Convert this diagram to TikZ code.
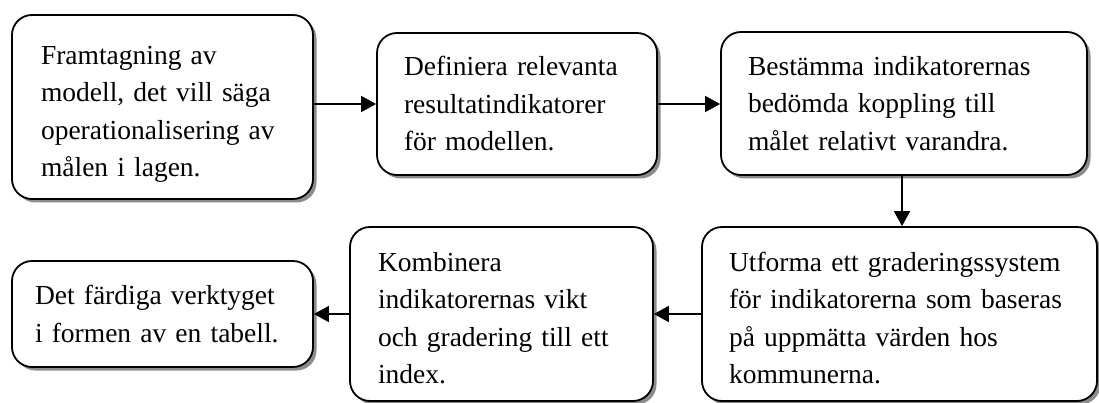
\documentclass[tikz,border=0pt]{standalone}
\usepackage{fontspec}
\setmainfont{Liberation Serif}
\usetikzlibrary{arrows.meta,shadows,calc}

\tikzset{
  stepbox/.style={
    draw=black, line width=1.8pt, rounded corners=20pt, fill=white,
    drop shadow={shadow xshift=3.5pt, shadow yshift=-3.5pt, fill=black!45, opacity=1},
    align=left, inner ysep=0pt,
    font=\fontsize{27.5}{37.5}\selectfont
  },
  boxsize/.style n args={3}{text width=#1pt-2*#3pt, inner xsep=#3pt, minimum height=#2pt},
  % a tall strut on the first line pushes the text block down
  toppad/.style={execute at begin node={\rule{0pt}{#1}}},
  flow/.style={line width=1.8pt, -{Triangle[length=15pt,width=16pt]}}
}

\begin{document}
\begin{tikzpicture}[x=1pt,y=-1pt]
  \useasboundingbox (0,0) rectangle (1099,403);
  \clip (0,0) rectangle (1099,403);

  % top row
  \node[stepbox, boxsize={301}{184}{29}, toppad=33pt] (b1) at (162.5,107)
    {Framtagning av\\modell, det vill säga\\operationalisering av\\målen i lagen.};
  \node[stepbox, boxsize={280}{142}{27}] (b2) at (517,104)
    {Definiera relevanta\\resultatindikatorer\\för modellen.};
  \node[stepbox, boxsize={366}{143}{27}] (b3) at (904,103.5)
    {Bestämma indikatorernas\\bedömda koppling till\\målet relativt varandra.};

  % bottom row
  \node[stepbox, boxsize={395}{174}{27}, toppad=27pt] (b5) at (899.5,314)
    {Utforma ett graderingssystem\\för indikatorerna som baseras\\på uppmätta värden hos\\kommunerna.};
  \node[stepbox, boxsize={303}{174}{28}, toppad=27pt] (b4) at (501.5,314)
    {Kombinera\\indikatorernas vikt\\och gradering till ett\\index.};
  \node[stepbox, boxsize={301}{106}{23}] (b6) at (162.5,314)
    {Det färdiga verktyget\\i formen av en tabell.};

  % connectors
  \draw[flow] (b1.east |- b2.west) -- (b2.west);
  \draw[flow] (b2.east) -- (b2.east -| b3.west);
  \draw[flow] ($(b3.south)+(-2,0)$) -- ($(b3.south |- b5.north)+(-2,0)$);
  \draw[flow] (b5.west) -- (b4.east);
  \draw[flow] (b4.west) -- (b6.east);
\end{tikzpicture}
\end{document}
